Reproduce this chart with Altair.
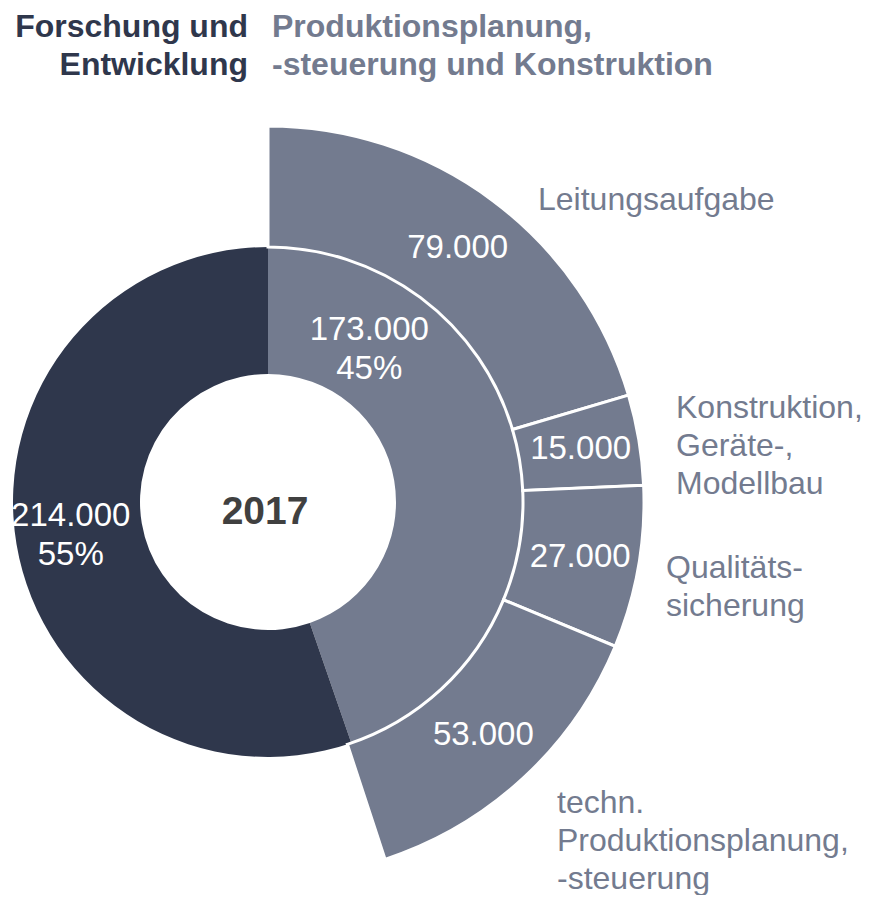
import math
import altair as alt
import pandas as pd

# ---------------- data ----------------
inner_cats = ["Produktionsplanung, -steuerung und Konstruktion", "Forschung und Entwicklung"]
inner_vals = [173000, 214000]

outer_cats = ["Leitungsaufgabe", "Konstruktion, Geräte-, Modellbau",
              "Qualitätssicherung", "techn. Produktionsplanung, -steuerung"]
outer_vals = [79000, 15000, 27000, 53000]
outer_display = ["Leitungsaufgabe", "Konstruktion,\nGeräte-,\nModellbau",
                 "Qualitäts-\nsicherung", "techn.\nProduktionsplanung,\n-steuerung"]

title_left = "Forschung und\nEntwicklung"
title_right = "Produktionsplanung,\n-steuerung und Konstruktion"
year = "2017"

# ---------------- styling ----------------
FONT = "Liberation Sans"
DARK = "#2f374c"
LIGHT = "#737b8f"
CX, CY = 260, 494
R_IN, R_MID, R_OUT = 128, 255, 376
VAL_SIZE = 33
VAL_LH = 39

total = sum(inner_vals)


def fmt(v):
    return f"{v:,}".replace(",", ".")


inner = pd.DataFrame({"cat": inner_cats, "value": inner_vals})
inner["end"] = inner["value"].cumsum()
inner["start"] = inner["end"] - inner["value"]
inner["mid"] = (inner["start"] + inner["end"]) / 2
inner["label"] = [f"{fmt(v)}\n{round(v / total * 100)}%" for v in inner_vals]

outer = pd.DataFrame({"cat": outer_cats, "value": outer_vals})
outer["end"] = outer["value"].cumsum()
outer["start"] = outer["end"] - outer["value"]
outer["mid"] = (outer["start"] + outer["end"]) / 2
outer["label"] = [fmt(v) for v in outer_vals]

theta_scale = alt.Scale(domain=[0, total], range=[0, 2 * math.pi])
color_scale = alt.Scale(domain=inner_cats + outer_cats,
                        range=[LIGHT, DARK] + [LIGHT] * len(outer_cats))

inner_arc = alt.Chart(inner).mark_arc(innerRadius=R_IN, outerRadius=R_MID).encode(
    theta=alt.Theta("start:Q", scale=theta_scale),
    theta2="end:Q",
    color=alt.Color("cat:N", scale=color_scale, legend=None),
    x=alt.value(CX), y=alt.value(CY),
)

outer_arc = alt.Chart(outer).mark_arc(
    innerRadius=R_MID, outerRadius=R_OUT, stroke="white", strokeWidth=3
).encode(
    theta=alt.Theta("start:Q", scale=theta_scale),
    theta2="end:Q",
    color=alt.Color("cat:N", scale=color_scale, legend=None),
    x=alt.value(CX), y=alt.value(CY),
)

outer_vals_text = alt.Chart(outer).mark_text(
    radius=317, font=FONT, fontSize=VAL_SIZE, color="white", align="center", baseline="middle"
).encode(
    theta=alt.Theta("mid:Q", scale=theta_scale),
    text="label:N",
    x=alt.value(CX), y=alt.value(CY),
)

fe_text = alt.Chart(inner).transform_filter(
    alt.datum.cat == inner_cats[1]
).mark_text(
    radius=200, font=FONT, fontSize=VAL_SIZE, color="white", align="center",
    baseline="middle", lineBreak="\n", lineHeight=VAL_LH, dy=-VAL_LH / 2
).encode(
    theta=alt.Theta("mid:Q", scale=theta_scale),
    text="label:N",
    x=alt.value(CX), y=alt.value(CY),
)

pk_text = alt.Chart(inner).transform_filter(
    alt.datum.cat == inner_cats[0]
).mark_text(
    radius=183, font=FONT, fontSize=VAL_SIZE, color="white", align="center",
    baseline="middle", lineBreak="\n", lineHeight=VAL_LH, dy=-VAL_LH / 2
).encode(
    theta=alt.value(math.radians(33.6)),
    text="label:N",
    x=alt.value(CX), y=alt.value(CY),
)

layers = [inner_arc, outer_arc, outer_vals_text, fe_text, pk_text]

# category labels (x = left edge, y = first line)
label_pos = [(530, 192), (668, 400), (658, 560), (549, 795)]
for txt, (lx, ly) in zip(outer_display, label_pos):
    layers.append(
        alt.Chart(pd.DataFrame({"t": [txt]})).mark_text(
            font=FONT, fontSize=32, color=LIGHT, align="left", baseline="middle",
            lineBreak="\n", lineHeight=38
        ).encode(text="t:N", x=alt.value(lx), y=alt.value(ly))
    )

# titles
layers.append(
    alt.Chart(pd.DataFrame({"t": [title_left]})).mark_text(
        font=FONT, fontSize=32, fontWeight="bold", color=DARK, align="right",
        baseline="top", lineBreak="\n", lineHeight=38
    ).encode(text="t:N", x=alt.value(240), y=alt.value(4))
)
layers.append(
    alt.Chart(pd.DataFrame({"t": [title_right]})).mark_text(
        font=FONT, fontSize=32, fontWeight="bold", color=LIGHT, align="left",
        baseline="top", lineBreak="\n", lineHeight=38
    ).encode(text="t:N", x=alt.value(264), y=alt.value(4))
)

# year in the centre
layers.append(
    alt.Chart(pd.DataFrame({"t": [year]})).mark_text(
        font=FONT, fontSize=39, fontWeight="bold", color="#404040",
        align="center", baseline="middle"
    ).encode(text="t:N", x=alt.value(257), y=alt.value(504))
)

chart = alt.layer(*layers).properties(
    width=854, height=887, autosize="none", padding=0
).configure_view(stroke=None)

chart.save("out.html", embed_options={"renderer": "svg", "actions": False})
